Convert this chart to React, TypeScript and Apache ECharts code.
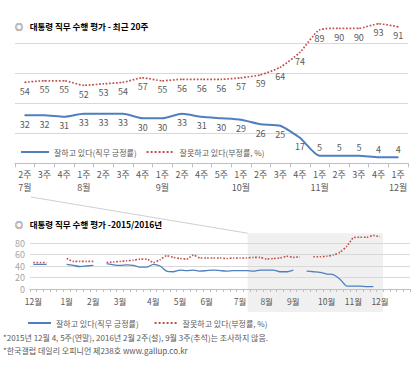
import React, { useEffect, useRef } from 'react';
import * as echarts from 'echarts';

// ---- Recent 20 weeks ----
const recentWeeks = ['2주', '3주', '4주', '1주', '2주', '3주', '4주', '1주', '2주', '4주', '5주', '1주', '2주', '3주', '4주', '1주', '2주', '3주', '4주', '1주'];
const recentMonths = ['7월', '', '', '8월', '', '', '', '9월', '', '', '', '10월', '', '', '', '11월', '', '', '', '12월'];
const recentApprove = [32, 32, 31, 33, 33, 33, 30, 30, 33, 31, 30, 29, 26, 25, 17, 5, 5, 5, 4, 4];
const recentDisapprove = [54, 55, 55, 52, 53, 54, 57, 55, 56, 56, 56, 57, 59, 64, 74, 89, 90, 90, 93, 91];

// ---- 2015/2016 weekly ----
const longMonthNames = ['12월', '1월', '2월', '3월', '4월', '5월', '6월', '7월', '8월', '9월', '10월', '11월', '12월'];
const longWeeksPerMonth = [5, 4, 4, 5, 4, 4, 5, 4, 4, 5, 4, 4, 5];
const longApprove = [
  43, 43, 43, null, null,
  43, 41, 39, 40, 41,
  null, 44, 42,
  41, 42, 41, 38, 38,
  43, 40, 31, 30,
  33, 32, 33, 31,
  32, 33, 32, 31, 32,
  32, 32, 31, 33,
  33, 33, 30,
  30, 33, null, 31, 30,
  29, 26, 25, 17,
  5, 5, 5, 4,
  4, null, null, null, null,
];
const longDisapprove = [
  46, 46, 46, null, null,
  53, 48, 48, 48, 48,
  null, 46, 47,
  48, 49, 50, 52, 52,
  46, 51, 58, 55,
  53, 52, 59, 54,
  54, 54, 54, 53, 54,
  54, 54, 55, 55,
  52, 53, 54, 57,
  55, 56, null, 56, 56,
  57, 59, 64, 74,
  89, 90, 90, 93,
  91, null, null, null, null,
];

const seriesNames = ['잘하고 있다(직무 긍정률)', '잘못하고 있다(부정률, %)'];
const titleTop = '대통령 직무 수행 평가 - 최근 20주';
const titleBottom = '대통령 직무 수행 평가 -2015/2016년';
const notes = [
  '*2015년 12월 4, 5주(연말), 2016년 2월 2주(설), 9월 3주(추석)는 조사하지 않음.',
  '*한국갤럽 데일리 오피니언 제238호 www.gallup.co.kr',
];

const FONT = '"Noto Sans CJK KR", "Noto Sans", sans-serif';
const BLUE = '#4f7fbd';
const RED = '#c0504d';
const GREY = '#595959';

export default function App() {
  const ref = useRef<HTMLDivElement>(null);

  useEffect(() => {
    if (!ref.current) return;
    const chart = echarts.init(ref.current, null, { renderer: 'svg' });

    const recentCats = recentWeeks.map((w, i) => (recentMonths[i] ? `${w}\n${recentMonths[i]}` : w));
    const longCats: string[] = [];
    const longIsMonthStart: boolean[] = [];
    const longMonthOf: string[] = [];
    longMonthNames.forEach((m, mi) => {
      for (let w = 1; w <= longWeeksPerMonth[mi]; w++) {
        longCats.push(`${mi}-${m} ${w}주`);
        longIsMonthStart.push(w === 1);
        longMonthOf.push(m);
      }
    });

    const labelStyle = { fontFamily: FONT, fontSize: 9, color: GREY };
    const legendCommon = {
      data: seriesNames,
      padding: 0,
      itemHeight: 10,
      itemStyle: { opacity: 0 },
      textStyle: { fontFamily: FONT, fontSize: 8, color: GREY },
    };

    // low values sit above the line so they stay clear of the axis
    const approveItems = recentApprove.map((v) =>
      v < 10 ? { value: v, label: { position: 'top', distance: 3 } } : v
    );

    const option: any = {
      animation: false,
      backgroundColor: '#ffffff',
      textStyle: { fontFamily: FONT },
      grid: [
        { left: 15, top: 13.3, width: 393, height: 150, outerBoundsMode: 'none' },
        { left: 30, top: 231.5, width: 380, height: 57.5, outerBoundsMode: 'none' },
      ],
      legend: [
        { ...legendCommon, left: 20, top: 148, itemWidth: 28, itemGap: 9 },
        { ...legendCommon, left: 27, top: 319, itemWidth: 23, itemGap: 15 },
      ],
      xAxis: [
        {
          type: 'category',
          gridIndex: 0,
          data: recentCats,
          boundaryGap: true,
          axisLine: { lineStyle: { color: '#bfbfbf' } },
          axisTick: { show: true, length: 4, lineStyle: { color: '#bfbfbf' } },
          axisLabel: { ...labelStyle, interval: 0, margin: 5, lineHeight: 13 },
        },
        {
          type: 'category',
          gridIndex: 1,
          data: longCats,
          boundaryGap: true,
          axisLine: { lineStyle: { color: '#bfbfbf' } },
          axisTick: { show: true, length: 3, interval: 0, lineStyle: { color: '#bfbfbf' } },
          axisLabel: {
            ...labelStyle,
            fontSize: 8.5,
            margin: 8,
            interval: (i: number) => longIsMonthStart[i] && i < 53,
            formatter: (_v: string, i: number) => longMonthOf[i],
          },
        },
      ],
      yAxis: [
        {
          type: 'value',
          gridIndex: 0,
          min: 0,
          max: 100,
          interval: 20,
          axisLabel: { show: false },
          axisLine: { show: false },
          axisTick: { show: false },
          splitLine: {
            lineStyle: { color: ['rgba(0,0,0,0)', '#d9d9d9', '#d9d9d9', '#d9d9d9', '#d9d9d9', 'rgba(0,0,0,0)'] },
          },
        },
        {
          type: 'value',
          gridIndex: 1,
          min: 0,
          max: 100,
          interval: 20,
          axisLabel: {
            fontFamily: FONT,
            fontSize: 9,
            color: '#a6a6a6',
            margin: 5,
            formatter: (v: number) => (v === 100 ? '' : String(v)),
          },
          axisLine: { show: false },
          axisTick: { show: false },
          splitLine: {
            lineStyle: { color: ['rgba(0,0,0,0)', '#d9d9d9', '#d9d9d9', '#d9d9d9', '#d9d9d9', 'rgba(0,0,0,0)'] },
          },
        },
      ],
      series: [
        {
          name: seriesNames[0],
          type: 'line',
          xAxisIndex: 0,
          yAxisIndex: 0,
          data: approveItems,
          symbol: 'circle',
          symbolSize: 1,
          smooth: 0.2,
          lineStyle: { color: BLUE, width: 2 },
          itemStyle: { color: BLUE },
          label: { show: true, position: 'bottom', distance: 4, ...labelStyle },
          z: 3,
        },
        {
          name: seriesNames[1],
          type: 'line',
          xAxisIndex: 0,
          yAxisIndex: 0,
          data: recentDisapprove,
          symbol: 'circle',
          symbolSize: 1,
          smooth: 0.2,
          lineStyle: { color: RED, width: 1.7, type: 'dotted' },
          itemStyle: { color: RED },
          label: { show: true, position: 'bottom', distance: 4, ...labelStyle },
          z: 3,
        },
        {
          name: seriesNames[0],
          type: 'line',
          xAxisIndex: 1,
          yAxisIndex: 1,
          data: longApprove,
          symbol: 'none',
          smooth: 0.2,
          connectNulls: false,
          lineStyle: { color: BLUE, width: 1.3 },
          itemStyle: { color: BLUE },
          z: 3,
        },
        {
          name: seriesNames[1],
          type: 'line',
          xAxisIndex: 1,
          yAxisIndex: 1,
          data: longDisapprove,
          symbol: 'none',
          smooth: 0.2,
          connectNulls: false,
          lineStyle: { color: RED, width: 1.6, type: 'dotted' },
          itemStyle: { color: RED },
          z: 3,
        },
      ],
    };

    chart.setOption(option);

    // shaded "recent 20 weeks" zone in the long chart, derived from the axis scales
    const startIdx = longCats.length - 25; // 2016 7월 2주
    const endIdx = longCats.length - 5; // 2016 12월 1주
    const p0 = chart.convertToPixel({ xAxisIndex: 1, yAxisIndex: 1 }, [startIdx, 97]) as number[];
    const p1 = chart.convertToPixel({ xAxisIndex: 1, yAxisIndex: 1 }, [endIdx, 97]) as number[];
    const rectX = p0[0] + 1;
    const rectW = p1[0] + 3 - rectX;
    const rectY = p0[1];

    chart.setOption({
      graphic: [
        {
          type: 'rect',
          z: -10,
          silent: true,
          shape: { x: rectX, y: rectY, width: rectW, height: 312 - rectY },
          style: { fill: '#f0f0f0' },
        },
        {
          type: 'line',
          z: -5,
          silent: true,
          shape: { x1: 31, y1: 197, x2: rectX, y2: rectY },
          style: { stroke: '#d0d0d0', lineWidth: 1 },
        },
        {
          type: 'text',
          left: 15,
          top: 20,
          style: {
            text: `{s|◎}  {t|${titleTop}}`,
            rich: {
              s: { fontFamily: FONT, fontSize: 8, color: '#8c8c8c' },
              t: { fontFamily: FONT, fontSize: 8.5, fontWeight: 'bold', color: '#3f3f3f' },
            },
          },
        },
        {
          type: 'text',
          left: 15,
          top: 218,
          style: {
            text: `{s|◎}  {t|${titleBottom}}`,
            rich: {
              s: { fontFamily: FONT, fontSize: 8, color: '#8c8c8c' },
              t: { fontFamily: FONT, fontSize: 8.5, fontWeight: 'bold', color: '#3f3f3f' },
            },
          },
        },
        {
          type: 'text',
          left: 3,
          top: 333,
          style: { text: notes[0], fontFamily: FONT, fontSize: 8, fill: GREY },
        },
        {
          type: 'text',
          left: 3,
          top: 346,
          style: { text: notes[1], fontFamily: FONT, fontSize: 8, fill: GREY },
        },
      ],
    });

    return () => chart.dispose();
  }, []);

  return (
    <div
      ref={ref}
      style={{ position: 'absolute', left: 0, top: 0, width: 418, height: 376, background: '#fff' }}
    />
  );
}
